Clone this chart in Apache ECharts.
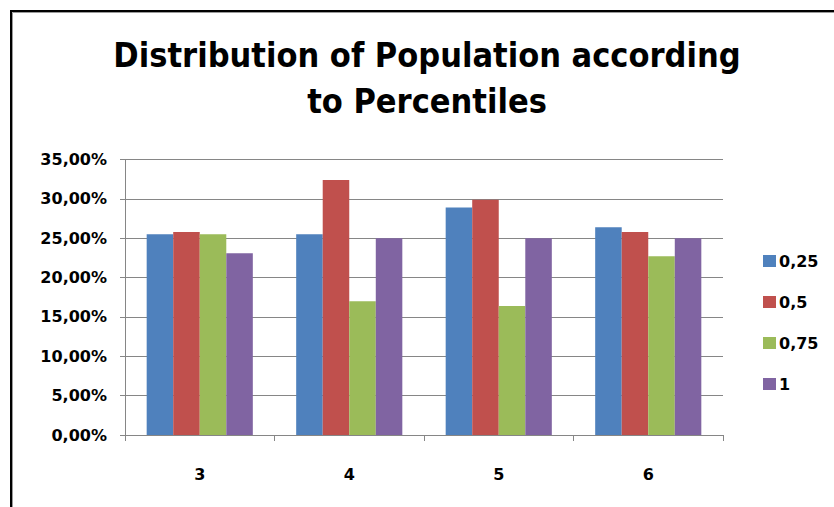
<!DOCTYPE html>
<html>
<head>
<meta charset="utf-8">
<script src="https://cdn.jsdelivr.net/npm/echarts@6/dist/echarts.min.js"></script>
<style>
  html, body { margin: 0; padding: 0; background: #fff; }
  #chart { width: 834px; height: 507px; }
</style>
</head>
<body>
<div id="chart"></div>
<script>
// Percentile groups on the x axis
const categories = ['3', '4', '5', '6'];

// Share of population per percentile (in %)
const seriesNames = ['0,25', '0,5', '0,75', '1'];
const p025 = [25.5, 25.5, 28.9, 26.4];
const p05  = [25.8, 32.4, 29.9, 25.8];
const p075 = [25.5, 17.0, 16.4, 22.7];
const p1   = [23.1, 25.0, 25.0, 25.0];

// Value axis ticks
const yMin = 0;
const yMax = 35;
const yStep = 5;

const colors = ['#4F81BD', '#C0504D', '#9BBB59', '#8064A2'];
const values = [p025, p05, p075, p1];

const fmtPct = v => v.toFixed(2).replace('.', ',') + '%';

const chart = echarts.init(document.getElementById('chart'), null, { renderer: 'svg' });

const labelFont = {
  fontFamily: 'DejaVu Sans',
  fontWeight: 'bold',
  fontSize: 16,
  color: '#000'
};

const titleFont = {
  fontFamily: "'DejaVu Sans Condensed', 'DejaVu Sans', sans-serif",
  fontWeight: 'bold',
  fontSize: 34,
  color: '#000'
};

chart.setOption({
  animation: false,
  backgroundColor: '#fff',
  color: colors,
  title: [
    { text: 'Distribution of Population according', left: 422, top: 33, textAlign: 'center', textStyle: titleFont },
    { text: 'to Percentiles', left: 422, top: 79, textAlign: 'center', textStyle: titleFont }
  ],
  graphic: [
    {
      type: 'rect', silent: true,
      shape: { x: 11, y: 11, width: 1000, height: 700 },
      style: { fill: 'none', stroke: '#000', lineWidth: 2 }
    },
    {
      type: 'rect', silent: true,
      shape: { x: 12.5, y: 12.5, width: 1000, height: 700 },
      style: { fill: 'none', stroke: '#9a9a9a', lineWidth: 1 }
    }
  ],
  legend: {
    orient: 'vertical',
    left: 758, top: 248,
    itemWidth: 13, itemHeight: 12, itemGap: 25,
    icon: 'rect',
    textStyle: Object.assign({}, labelFont, { padding: [0, 0, 0, -2] }),
    data: seriesNames
  },
  grid: { left: 125, right: 111, top: 159.5, bottom: 72, containLabel: false },
  xAxis: {
    type: 'category',
    data: categories,
    axisLine: { lineStyle: { color: '#868686', width: 1 } },
    axisTick: { show: true, length: 6, lineStyle: { color: '#868686' } },
    axisLabel: Object.assign({ margin: 31 }, labelFont)
  },
  yAxis: {
    type: 'value',
    min: yMin, max: yMax, interval: yStep,
    axisLine: { show: true, lineStyle: { color: '#868686', width: 1 } },
    axisTick: { show: true, length: 5, lineStyle: { color: '#868686' } },
    splitLine: { lineStyle: { color: '#868686', width: 1 } },
    axisLabel: Object.assign({ margin: 18, formatter: fmtPct }, labelFont)
  },
  series: seriesNames.map((name, i) => ({
    name: name,
    type: 'bar',
    data: values[i],
    barGap: '0%',
    barCategoryGap: '29%',
    itemStyle: { color: colors[i] }
  }))
});
</script>
</body>
</html>
